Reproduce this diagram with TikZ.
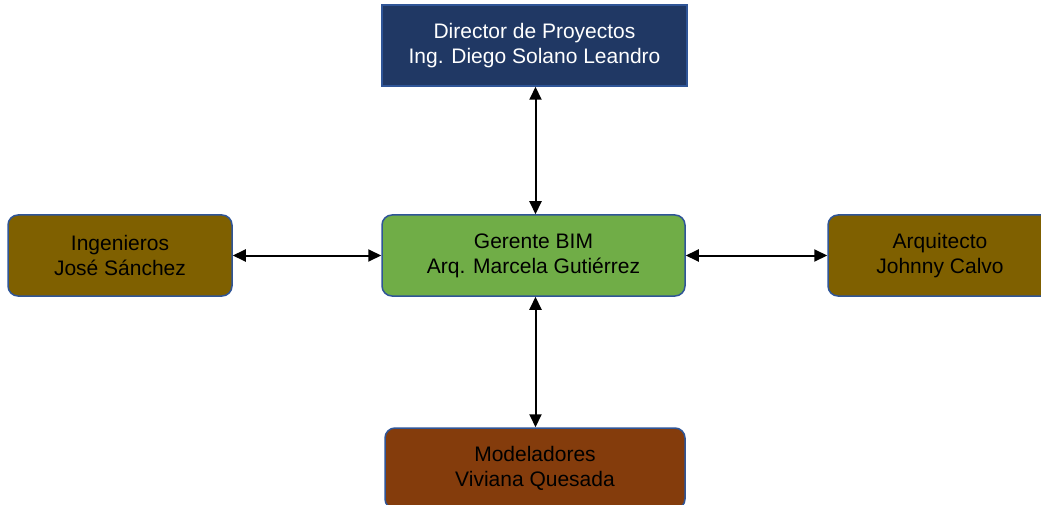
\documentclass[tikz,border=0pt]{standalone}
\usepackage{fontspec}
\setmainfont{Liberation Sans}
\usetikzlibrary{arrows.meta}
\definecolor{navy}{HTML}{203864}
\definecolor{edgeblue}{HTML}{2F5597}
\definecolor{olivebrown}{HTML}{7F6000}
\definecolor{bimgreen}{HTML}{70AD47}
\definecolor{rust}{HTML}{843C0C}
\tikzset{
  box/.style={draw=edgeblue, line width=1.5pt, align=center, inner sep=0pt,
    font=\fontsize{21}{25}\selectfont, text=black},
  rbox/.style={box, rounded corners=10pt},
  link/.style={line width=2pt, {Triangle[length=13pt,width=12pt]}-{Triangle[length=13pt,width=12pt]}}
}
\begin{document}
\begin{tikzpicture}[x=1pt,y=-1pt]
\useasboundingbox (0,0) rectangle (1041,505);
\clip (0,0) rectangle (1041,505);
\node[box, fill=navy, text=white, minimum width=305pt, minimum height=81pt] (top) at (534.5,45.5)
  {Director de Proyectos\\Ing. Diego Solano Leandro};
\node[rbox, fill=olivebrown, minimum width=224pt, minimum height=81pt] (left) at (120,255.5)
  {Ingenieros\\José Sánchez};
\node[rbox, fill=bimgreen, minimum width=303pt, minimum height=81pt] (mid) at (533.5,255.5)
  {Gerente BIM\\Arq. Marcela Gutiérrez};
\node[rbox, fill=olivebrown, minimum width=224pt, minimum height=81pt] (right) at (940,255.5)
  {Arquitecto\\Johnny Calvo};
\node[rbox, fill=rust, minimum width=300pt, minimum height=81pt] (bot) at (535,468.5)
  {Modeladores\\Viviana Quesada};
\coordinate (ax) at (535.5,0);
\draw[link] (top.south -| ax) -- (mid.north -| ax);
\draw[link] (mid.south -| ax) -- (bot.north -| ax);
\draw[link] (left.east) -- (mid.west);
\draw[link] (mid.east) -- (right.west);
\end{tikzpicture}
\end{document}
